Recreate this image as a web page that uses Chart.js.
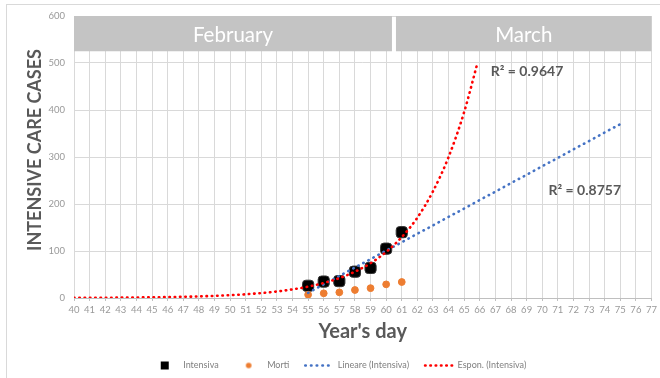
<!DOCTYPE html>
<html>
<head>
<meta charset="utf-8">
<script src="https://cdn.jsdelivr.net/npm/chart.js@4.4.1/dist/chart.umd.min.js"></script>
<style>
  html, body { margin: 0; padding: 0; background: #fff; }
  #wrap { width: 660px; height: 378px; }
</style>
</head>
<body>
<div id="wrap"><canvas id="chart" width="660" height="378"></canvas></div>
<script>
// dati
const days = [55, 56, 57, 58, 59, 60, 61]
const intensiva = [26, 35, 36, 56, 64, 105, 140]
const morti = [7, 10, 12, 17, 21, 29, 34]

// trend lineare (Intensiva)
const linDays = [55, 75]
const linVals = [11, 370]

// trend esponenziale (Intensiva)
const expDays = [40, 41, 42, 43, 44, 45, 46, 47, 48, 49, 50, 51, 52, 53, 54, 55, 56, 57, 58, 59, 60, 61, 62, 63, 64, 65, 65.85]
const expVals = [0.4, 0.5, 0.6, 0.8, 1.1, 1.5, 2, 2.6, 3.4, 4.5, 6, 7.9, 10.5, 13.8, 18.3, 24.2, 32, 42.3, 56, 74, 98, 129.6, 171, 227, 300, 396, 500]

const r2Labels = ['R² = 0.9647', 'R² = 0.8757']

const months = ['February', 'March']
const monthFrom = [40, 60.5]
const monthTo = [60.5, 77]

const yTitle = 'INTENSIVE CARE CASES'
const xTitle = "Year's day"

const xMin = 40, xMax = 77
const yMin = 0, yMax = 600, yStep = 100

const FONT = 'Lato'
const pts = (xs, ys) => xs.map((x, i) => ({ x: x, y: ys[i] }))

// icone legenda
function icon(kind) {
  const c = document.createElement('canvas')
  c.width = 10; c.height = 10
  const g = c.getContext('2d')
  if (kind === 'square') {
    g.fillStyle = '#000'
    g.fillRect(1, 1, 8, 8)
  } else {
    g.fillStyle = '#ed7d31'
    g.beginPath(); g.arc(5, 5, 2.8, 0, Math.PI * 2); g.fill()
  }
  return c
}
const legendIcons = [icon('square'), icon('circle')]

// cornice esterna + titolo asse y
const frame = {
  id: 'frame',
  beforeDraw(chart) {
    const ctx = chart.ctx
    ctx.save()
    ctx.strokeStyle = '#d9d9d9'
    ctx.lineWidth = 1
    ctx.strokeRect(6.5, 4.5, 700, 400)
    ctx.translate(35, 150)
    ctx.rotate(-Math.PI / 2)
    ctx.fillStyle = '#595959'
    ctx.font = 'bold 18px ' + FONT
    ctx.textAlign = 'center'
    ctx.textBaseline = 'middle'
    ctx.fillText(yTitle, 0, 0)
    ctx.restore()
  }
}

// fasce dei mesi
const monthBands = {
  id: 'monthBands',
  beforeDatasetsDraw(chart) {
    const { ctx, scales: { x, y } } = chart
    const top = y.getPixelForValue(600)
    const bottom = y.getPixelForValue(525)
    ctx.save()
    months.forEach((m, i) => {
      let l = x.getPixelForValue(monthFrom[i])
      let r = x.getPixelForValue(monthTo[i])
      if (i > 0) l += 2
      if (i < months.length - 1) r -= 2
      ctx.fillStyle = '#c4c4c4'
      ctx.fillRect(l, top, r - l, bottom - top)
      ctx.fillStyle = '#ffffff'
      ctx.font = '20.5px ' + FONT
      ctx.textAlign = 'center'
      ctx.textBaseline = 'middle'
      ctx.fillText(m, (l + r) / 2, (top + bottom) / 2 + 1.5)
    })
    ctx.restore()
  }
}

// etichette R²
const r2Text = {
  id: 'r2Text',
  afterDatasetsDraw(chart) {
    const { ctx, scales: { x, y } } = chart
    const at = [[66.7, 482], [70.4, 229]]
    ctx.save()
    ctx.fillStyle = '#595959'
    ctx.font = 'bold 14px ' + FONT
    ctx.textAlign = 'left'
    ctx.textBaseline = 'middle'
    r2Labels.forEach((t, i) => {
      ctx.fillText(t, x.getPixelForValue(at[i][0]), y.getPixelForValue(at[i][1]))
    })
    ctx.restore()
  }
}

const chart = new Chart(document.getElementById('chart'), {
  type: 'scatter',
  data: {
    datasets: [
      {
        label: 'Intensiva',
        data: pts(days, intensiva),
        backgroundColor: '#000',
        borderColor: '#333',
        borderWidth: 1,
        pointStyle: 'rectRounded',
        pointRadius: 6.5,
        order: 4
      },
      {
        label: 'Morti',
        data: pts(days, morti),
        backgroundColor: '#ed7d31',
        borderColor: '#ed7d31',
        pointRadius: 3.4,
        order: 3
      },
      {
        label: 'Lineare (Intensiva)',
        data: pts(linDays, linVals),
        showLine: true,
        borderColor: '#4472c4',
        borderWidth: 2.6,
        borderDash: [0.5, 5.2],
        borderCapStyle: 'round',
        pointRadius: 0,
        order: 2
      },
      {
        label: 'Espon. (Intensiva)',
        data: pts(expDays, expVals),
        showLine: true,
        borderColor: '#ff0000',
        borderWidth: 2.6,
        borderDash: [0.5, 4.8],
        borderCapStyle: 'round',
        cubicInterpolationMode: 'monotone',
        pointRadius: 0,
        order: 1
      }
    ]
  },
  options: {
    responsive: false,
    animation: false,
    layout: { padding: { left: 22, right: 5, top: 16, bottom: -2 } },
    scales: {
      x: {
        type: 'linear',
        min: xMin,
        max: xMax,
        ticks: { stepSize: 1, color: '#999', font: { family: FONT, size: 9.5 }, padding: 3, maxRotation: 0, autoSkip: false },
        grid: { color: '#d9d9d9', tickLength: 3, tickColor: '#bfbfbf' },
        border: { color: '#bfbfbf' },
        title: { display: true, text: xTitle, color: '#595959', font: { family: FONT, size: 20, weight: 'bold' }, padding: { top: 0, bottom: 1 } },
        afterFit(s) { s.height = 47 }
      },
      y: {
        min: yMin,
        max: yMax,
        ticks: { stepSize: yStep, color: '#999', font: { family: FONT, size: 9.5 }, padding: 9 },
        grid: { color: '#d9d9d9', drawTicks: false },
        border: { display: false },
        afterFit(s) { s.width = 52 }
      }
    },
    plugins: {
      tooltip: { enabled: false },
      legend: {
        position: 'bottom',
        labels: {
          usePointStyle: true,
          pointStyleWidth: 28,
          padding: 16,
          color: '#7f7f7f',
          font: { family: FONT, size: 9 },
          generateLabels(ch) {
            const items = Chart.defaults.plugins.legend.labels.generateLabels(ch)
            items.sort((a, b) => a.datasetIndex - b.datasetIndex)
            items.forEach(it => {
              const ds = ch.data.datasets[it.datasetIndex]
              if (ds.showLine) {
                it.pointStyle = 'line'
                it.lineDash = ds.borderDash
                it.lineCap = 'round'
                it.lineWidth = ds.borderWidth
                it.strokeStyle = ds.borderColor
              } else {
                it.pointStyle = legendIcons[it.datasetIndex]
              }
            })
            return items
          }
        }
      }
    }
  },
  plugins: [frame, monthBands, r2Text]
})
</script>
</body>
</html>
